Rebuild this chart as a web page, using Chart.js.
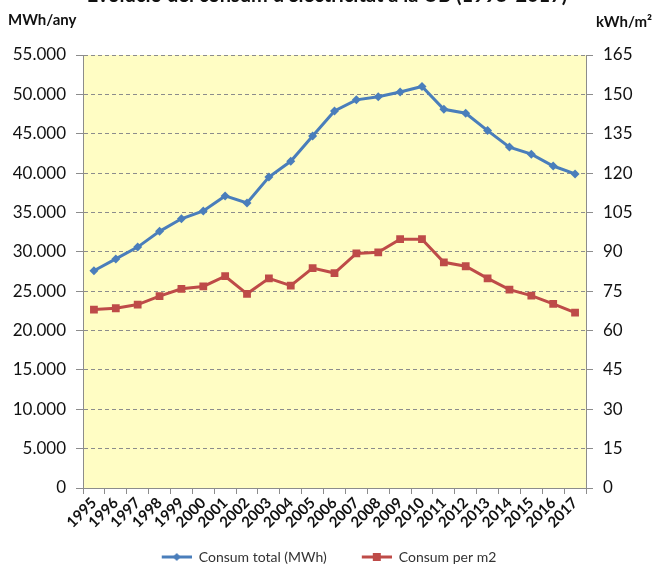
<!DOCTYPE html>
<html>
<head>
<meta charset="utf-8">
<script src="https://cdn.jsdelivr.net/npm/chart.js@4.4.0/dist/chart.umd.min.js"></script>
<style>
  html, body { margin: 0; padding: 0; background: #fff; overflow: hidden; }
  #wrap { position: relative; width: 654px; height: 568px; overflow: hidden; }
  #wrap canvas { position: absolute; left: 0; top: -14px; }
</style>
</head>
<body>
<div id="wrap"><canvas id="chart" width="654" height="588"></canvas></div>
<script>
// data
const years = ['1995', '1996', '1997', '1998', '1999', '2000', '2001', '2002', '2003', '2004', '2005', '2006',
  '2007', '2008', '2009', '2010', '2011', '2012', '2013', '2014', '2015', '2016', '2017'];
const consumTotal = [27600, 29100, 30600, 32600, 34200, 35200, 37100, 36200, 39500, 41500, 44700, 47900,
  49300, 49700, 50300, 51000, 48100, 47600, 45400, 43300, 42400, 40900, 39900];
const consumPerM2 = [68.0, 68.5, 69.9, 73.1, 75.9, 76.8, 80.7, 74.0, 79.9, 77.1, 83.8, 81.9,
  89.4, 89.8, 94.8, 94.8, 86.0, 84.5, 79.9, 75.6, 73.3, 70.2, 66.8];
const seriesNames = ['Consum total (MWh)', 'Consum per m2'];
const leftMax = 55000, leftStep = 5000;
const rightMax = 165, rightStep = 15;
const titleText = "Evolució del consum d'electricitat a la UB (1995-2017)";
const leftUnit = 'MWh/any';
const rightUnit = 'kWh/m²';

const BLUE = '#4A7EBB';
const RED = '#BE4B48';
const GRID = '#8c8c8c';
const FONT = 'Lato, "Open Sans", sans-serif';

function fmtThousands(v) {
  return String(v).replace(/\B(?=(\d{3})+(?!\d))/g, '.');
}

// line + marker icon for the legend, with empty space on the left to widen the gap between items
function legendIcon(color, shape) {
  const c = document.createElement('canvas');
  c.width = 55; c.height = 10;
  const g = c.getContext('2d');
  g.strokeStyle = color;
  g.lineWidth = 3;
  g.beginPath(); g.moveTo(25, 5); g.lineTo(55, 5); g.stroke();
  g.fillStyle = color;
  if (shape === 'diamond') {
    g.beginPath(); g.moveTo(40, 1); g.lineTo(44, 5); g.lineTo(40, 9); g.lineTo(36, 5); g.closePath(); g.fill();
  } else {
    g.fillRect(36, 1, 8, 8);
  }
  return c;
}
const icons = [legendIcon(BLUE, 'diamond'), legendIcon(RED, 'square')];

const plotBg = {
  id: 'plotBg',
  beforeDraw(chart) {
    const { ctx, chartArea: a } = chart;
    ctx.save();
    ctx.fillStyle = '#FFFDC4';
    ctx.fillRect(a.left, a.top, a.right - a.left, a.bottom - a.top);
    ctx.restore();
  }
};

const unitLabels = {
  id: 'unitLabels',
  afterDraw(chart) {
    const ctx = chart.ctx;
    ctx.save();
    ctx.fillStyle = '#111';
    ctx.font = 'bold 15px ' + FONT;
    ctx.textBaseline = 'middle';
    ctx.textAlign = 'left';
    ctx.fillText(leftUnit, 8, 34);
    ctx.textAlign = 'right';
    ctx.fillText(rightUnit, 652, 36);
    ctx.restore();
  }
};

new Chart(document.getElementById('chart'), {
  type: 'line',
  data: {
    labels: years,
    datasets: [{
      label: seriesNames[0],
      data: consumTotal,
      yAxisID: 'y',
      borderColor: BLUE,
      backgroundColor: BLUE,
      borderWidth: 3,
      pointStyle: 'rectRot',
      pointRadius: 4.5,
      pointBorderWidth: 0
    }, {
      label: seriesNames[1],
      data: consumPerM2,
      yAxisID: 'y1',
      borderColor: RED,
      backgroundColor: RED,
      borderWidth: 3,
      pointStyle: 'rect',
      pointRadius: 5.5,
      pointBorderWidth: 0
    }]
  },
  options: {
    responsive: false,
    animation: false,
    layout: { padding: 0 },
    elements: { line: { tension: 0 } },
    plugins: {
      title: {
        display: true,
        text: titleText,
        color: '#111',
        font: { family: FONT, size: 20, weight: 'bold', lineHeight: 1.0 },
        padding: { top: 0, bottom: 49 }
      },
      legend: {
        position: 'bottom',
        labels: {
          usePointStyle: true,
          pointStyleWidth: 55,
          padding: 10,
          color: '#333',
          font: { family: FONT, size: 14 },
          generateLabels(chart) {
            const items = Chart.defaults.plugins.legend.labels.generateLabels(chart);
            items.forEach((it, i) => { it.pointStyle = icons[i]; });
            // trailing blank space balances the empty left part of the first icon
            items[items.length - 1].text += '\u2003\u2003';
            return items;
          }
        }
      },
      tooltip: { enabled: false }
    },
    scales: {
      x: {
        offset: true,
        grid: { offset: true, drawOnChartArea: false, color: GRID, tickLength: 6 },
        border: { color: GRID },
        ticks: {
          autoSkip: false, minRotation: 45, maxRotation: 45, padding: 0,
          color: '#111', font: { family: FONT, size: 15, weight: 'bold' }
        },
        afterFit(scale) { scale.height = 52; }
      },
      y: {
        position: 'left',
        min: 0, max: leftMax,
        grid: { color: GRID, tickLength: 7, tickColor: GRID, tickBorderDash: [] },
        border: { color: GRID, dash: [4, 3] },
        ticks: {
          stepSize: leftStep, padding: 10, color: '#111',
          font: { family: FONT, size: 17 },
          callback: v => fmtThousands(v)
        },
        afterFit(scale) { scale.width = 83; }
      },
      y1: {
        position: 'right',
        min: 0, max: rightMax,
        grid: { drawOnChartArea: false, color: GRID, tickLength: 7 },
        border: { color: GRID },
        ticks: {
          stepSize: rightStep, padding: 10, color: '#111',
          font: { family: FONT, size: 17 }
        },
        afterFit(scale) { scale.width = 68; }
      }
    }
  },
  plugins: [plotBg, unitLabels]
});
</script>
</body>
</html>
